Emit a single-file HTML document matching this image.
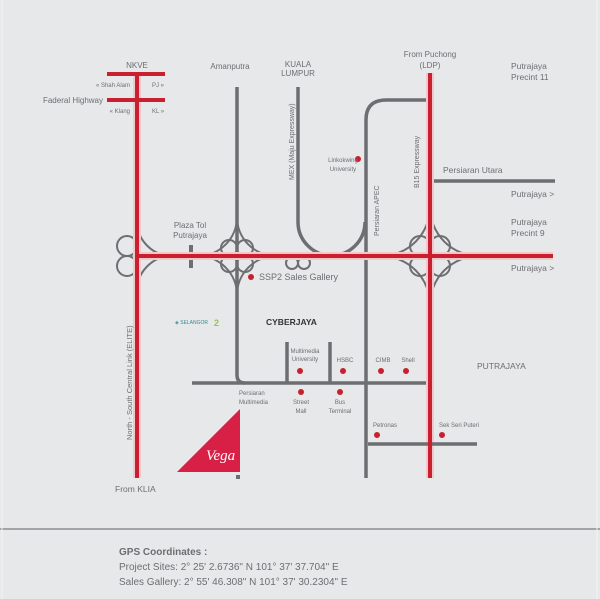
<!DOCTYPE html>
<html><head><meta charset="utf-8"><style>
html,body{margin:0;padding:0;background:#e6e8ea;}
svg{display:block;font-family:"Liberation Sans",sans-serif;}
</style></head><body>
<svg width="600" height="599" viewBox="0 0 600 599" xmlns="http://www.w3.org/2000/svg">
<rect width="600" height="599" fill="#e6e8ea"/>
<line x1="0" y1="529" x2="600" y2="529" stroke="#8a8c8f" stroke-width="1.5"/>
<line x1="2" y1="0" x2="2" y2="599" stroke="#f2f3f4" stroke-width="1"/>
<line x1="597" y1="0" x2="597" y2="599" stroke="#f2f3f4" stroke-width="1"/>

<g fill="none" stroke="#6d6e71" stroke-width="3.5">
 <path d="M237 87 V375 Q237 383 245 383"/>
 <line x1="192" y1="383" x2="428" y2="383"/>
 <path d="M298 87 V222 A33.5 33.5 0 0 0 365 222"/>
 <path d="M366 478 V120 Q366 100 386 100 H430"/>
 <line x1="430" y1="181" x2="555" y2="181"/>
 <line x1="287" y1="342" x2="287" y2="383"/>
 <line x1="330" y1="342" x2="330" y2="383"/>
 <line x1="191" y1="245" x2="191" y2="268" stroke-width="4"/>
</g>
<g fill="none" stroke="#6d6e71" stroke-width="2">
 <path d="M137 221 A35 35 0 0 0 172 256 A35 35 0 0 0 137 291"/>
 <circle cx="127" cy="246" r="10"/><circle cx="127" cy="266" r="10"/>
 <path d="M237 217 A39 39 0 0 1 198 256 A39 39 0 0 1 237 295 A39 39 0 0 1 276 256 A39 39 0 0 1 237 217 Z"/>
 <circle cx="229" cy="248" r="8"/><circle cx="245" cy="248" r="8"/>
 <circle cx="229" cy="264" r="8"/><circle cx="245" cy="264" r="8"/>
 <circle cx="292" cy="263" r="6"/><circle cx="304" cy="263" r="6"/>
 <path d="M430 207 A49 49 0 0 1 381 256 A49 49 0 0 1 430 305 A49 49 0 0 1 479 256 A49 49 0 0 1 430 207 Z"/>
 <circle cx="420" cy="246" r="10"/><circle cx="440" cy="246" r="10"/>
 <circle cx="420" cy="266" r="10"/><circle cx="440" cy="266" r="10"/>
</g>

<g stroke="#f4c8cb" stroke-width="8" fill="none">
 <line x1="137" y1="73" x2="137" y2="478"/>
 <line x1="430" y1="73" x2="430" y2="478"/>
 <line x1="137" y1="256" x2="553" y2="256"/>
</g>
<g stroke="#c8202e" stroke-width="4" fill="none">
 <line x1="137" y1="73" x2="137" y2="478"/>
 <line x1="107" y1="74" x2="165" y2="74"/>
 <line x1="107" y1="100" x2="165" y2="100"/>
 <line x1="430" y1="73" x2="430" y2="478"/>
 <line x1="137" y1="256" x2="553" y2="256"/>
</g>
<line x1="368" y1="444" x2="477" y2="444" stroke="#6d6e71" stroke-width="3.5"/>
<line x1="430" y1="436" x2="430" y2="478" stroke="#c8202e" stroke-width="4"/>

<g fill="#c8202e">
 <circle cx="251" cy="277" r="3"/><circle cx="358" cy="159" r="3"/>
 <circle cx="300" cy="371" r="3"/><circle cx="343" cy="371" r="3"/>
 <circle cx="381" cy="371" r="3"/><circle cx="406" cy="371" r="3"/>
 <circle cx="301" cy="392" r="3"/><circle cx="340" cy="392" r="3"/>
 <circle cx="377" cy="435" r="3"/><circle cx="442" cy="435" r="3"/>
 <polygon points="177,472 240,409 240,472" fill="#d81f45"/>
</g>
<text x="206" y="460" font-family="Liberation Serif,serif" font-style="italic" font-size="15" fill="#fff">Vega</text>
<rect x="236" y="475" width="4" height="4" fill="#6d6e71"/>

<g fill="#6d6e71" font-size="8">
 <text x="137" y="68" text-anchor="middle">NKVE</text>
 <text x="130" y="87" text-anchor="end" font-size="6">« Shah Alam</text>
 <text x="152" y="87" font-size="6">PJ »</text>
 <text x="103" y="103" text-anchor="end">Faderal Highway</text>
 <text x="130" y="113" text-anchor="end" font-size="6">« Klang</text>
 <text x="152" y="113" font-size="6">KL »</text>
 <text x="230" y="69" text-anchor="middle">Amanputra</text>
 <text x="298" y="67" text-anchor="middle">KUALA</text>
 <text x="298" y="76" text-anchor="middle">LUMPUR</text>
 <text x="430" y="57" text-anchor="middle">From Puchong</text>
 <text x="430" y="68" text-anchor="middle">(LDP)</text>
 <text x="511" y="69" font-size="8.5">Putrajaya</text>
 <text x="511" y="80" font-size="8.5">Precint 11</text>
 <text x="443" y="173" font-size="8.5">Persiaran Utara</text>
 <text x="511" y="197" font-size="8.5">Putrajaya &gt;</text>
 <text x="511" y="225" font-size="8.5">Putrajaya</text>
 <text x="511" y="236" font-size="8.5">Precint 9</text>
 <text x="511" y="271" font-size="8.5">Putrajaya &gt;</text>
 <text x="190" y="228" text-anchor="middle">Plaza Tol</text>
 <text x="190" y="238" text-anchor="middle">Putrajaya</text>
 <text x="259" y="280" font-size="9">SSP2 Sales Gallery</text>
 <text x="343" y="162" text-anchor="middle" font-size="6">Linkokwing</text>
 <text x="343" y="171" text-anchor="middle" font-size="6">University</text>
 <text transform="translate(294,180) rotate(-90)" font-size="7">MEX (Maju Expressway)</text>
 <text transform="translate(379,236) rotate(-90)" font-size="7">Persiaran APEC</text>
 <text transform="translate(419,188) rotate(-90)" font-size="7">B15 Expressway</text>
 <text transform="translate(132,440) rotate(-90)" font-size="7.5">North - South Central Link (ELITE)</text>
 <text x="115" y="492" font-size="8.5">From KLIA</text>
 <text x="266" y="325" font-size="8.5" font-weight="bold" fill="#333">CYBERJAYA</text>
 <text x="175" y="324" font-size="5" fill="#3a8a8a">◈ SELANGOR</text>
 <text x="214" y="326" font-size="9" font-weight="bold" fill="#9ac53f">2</text>
 <text x="305" y="353" text-anchor="middle" font-size="6">Multimedia</text>
 <text x="305" y="361" text-anchor="middle" font-size="6">University</text>
 <text x="345" y="362" text-anchor="middle" font-size="6">HSBC</text>
 <text x="383" y="362" text-anchor="middle" font-size="6">CIMB</text>
 <text x="408" y="362" text-anchor="middle" font-size="6">Shell</text>
 <text x="239" y="395" font-size="6">Persiaran</text>
 <text x="239" y="404" font-size="6">Multimedia</text>
 <text x="301" y="404" text-anchor="middle" font-size="6">Street</text>
 <text x="301" y="413" text-anchor="middle" font-size="6">Mall</text>
 <text x="340" y="404" text-anchor="middle" font-size="6">Bus</text>
 <text x="340" y="413" text-anchor="middle" font-size="6">Terminal</text>
 <text x="373" y="427" font-size="6">Petronas</text>
 <text x="439" y="427" font-size="6">Sek Seri Puteri</text>
 <text x="477" y="369" font-size="8.5">PUTRAJAYA</text>
</g>

<g fill="#6d6e71">
 <text x="119" y="555" font-size="10" font-weight="bold">GPS Coordinates :</text>
 <text x="119" y="570" font-size="10">Project Sites: 2° 25' 2.6736" N 101° 37' 37.704" E</text>
 <text x="119" y="585" font-size="10">Sales Gallery: 2° 55' 46.308" N 101° 37' 30.2304" E</text>
</g>
</svg>
</body></html>
